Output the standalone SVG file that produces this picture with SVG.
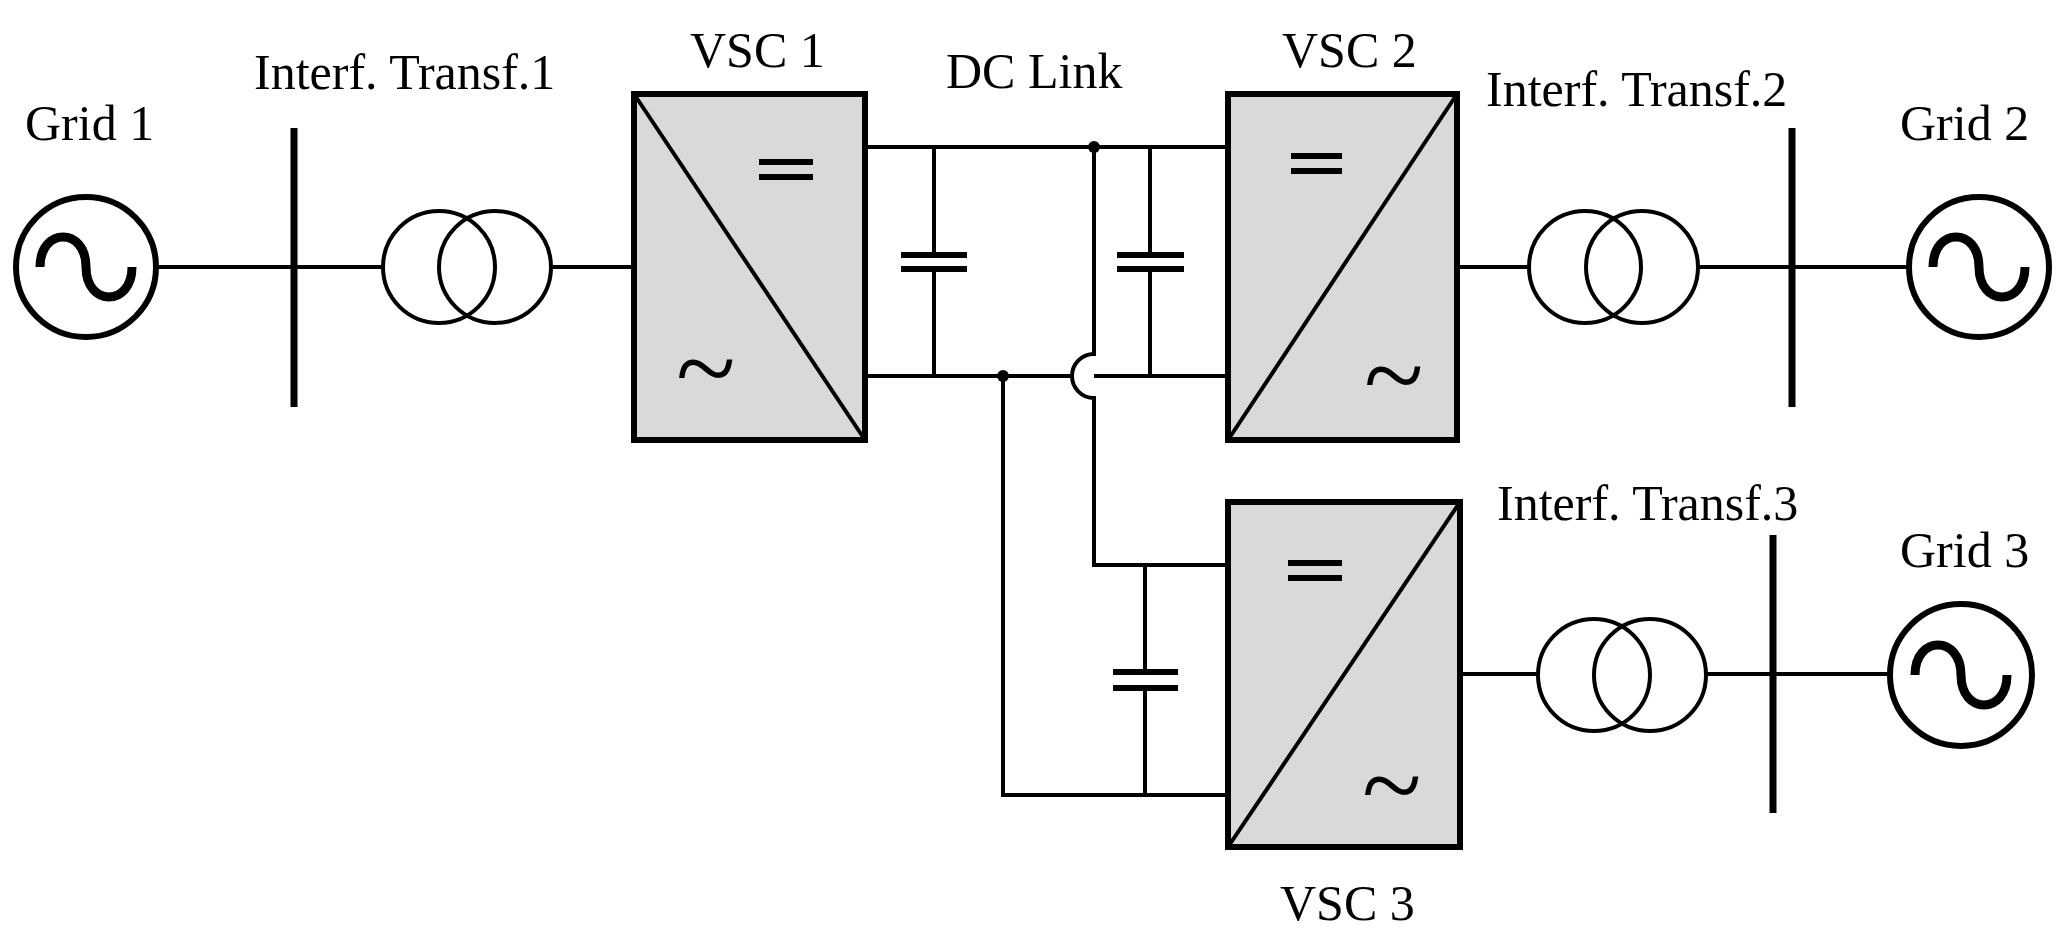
<svg xmlns="http://www.w3.org/2000/svg" width="2070" height="940" viewBox="0 0 2070 940">
<style>
.w{fill:none;stroke:#000;stroke-width:4}
.bus{stroke:#000;stroke-width:7}
.g{fill:none;stroke:#000;stroke-width:6}
.sine{fill:none;stroke:#000;stroke-width:9}
.tr{fill:none;stroke:#000;stroke-width:4}
.box{fill:#d9d9d9;stroke:#000;stroke-width:6}
.diag{stroke:#000;stroke-width:4}
.plate{stroke:#000;stroke-width:6}
.t{font-family:"Liberation Serif","Times New Roman",serif;font-size:50px;fill:#000}
.tl{font-family:"Liberation Serif","Times New Roman",serif;font-size:110px;fill:#000}
</style>
<rect width="2070" height="940" fill="#fff"/>
<g id="connectors">
<path class="w" d="M157,267H383M551,267H634M865,147H1228M865,376H1072M1094,376H1228M1003,376V795H1228M1094,147V354A22,22 0 0 0 1094,398V565H1228M934,147V255M934,269V376M1150,147V255M1150,269V376M1145,565V672M1145,688V795M1457,267H1529M1698,267H1910M1460,674H1538M1706,674H1889"/>
<circle cx="1003" cy="376" r="6"/>
<circle cx="1094" cy="147" r="6"/>
<path class="plate" d="M901,255H967M901,269H967M1117,255H1184M1117,269H1184M1113,672H1178M1113,688H1178"/>
</g>
<g id="grid1"><circle class="g" cx="86" cy="267" r="70"/><path class="sine" d="M40,267C40,227 86,227 86,267C86,307 132,307 132,267"/><text class="t" x="25" y="140">Grid 1</text></g>
<g id="bus1"><line class="bus" x1="294" y1="128" x2="294" y2="407"/></g>
<g id="transf1"><circle class="tr" cx="439" cy="267" r="56"/><circle class="tr" cx="495" cy="267" r="56"/><text class="t" x="254" y="89">Interf. Transf.1</text></g>
<g id="vsc1"><rect class="box" x="634" y="94" width="231" height="346"/><line class="diag" x1="634" y1="94" x2="865" y2="440"/><path class="plate" d="M759,162H813M759,177H813"/><text class="tl" x="676" y="405">~</text><text class="t" x="690" y="67">VSC 1</text></g>
<g id="dclink"><text class="t" x="946" y="88">DC Link</text></g>
<g id="vsc2"><rect class="box" x="1228" y="94" width="229" height="346"/><line class="diag" x1="1228" y1="440" x2="1457" y2="94"/><path class="plate" d="M1291,156H1342M1291,171H1342"/><text class="tl" x="1364" y="412">~</text><text class="t" x="1282" y="67">VSC 2</text></g>
<g id="transf2"><circle class="tr" cx="1585" cy="267" r="56"/><circle class="tr" cx="1642" cy="267" r="56"/><text class="t" x="1486" y="106">Interf. Transf.2</text></g>
<g id="bus2"><line class="bus" x1="1792" y1="128" x2="1792" y2="407"/></g>
<g id="grid2"><circle class="g" cx="1979" cy="267" r="70"/><path class="sine" d="M1933,267C1933,227 1979,227 1979,267C1979,307 2025,307 2025,267"/><text class="t" x="1900" y="140">Grid 2</text></g>
<g id="vsc3"><rect class="box" x="1228" y="502" width="232" height="345"/><line class="diag" x1="1228" y1="847" x2="1460" y2="502"/><path class="plate" d="M1288,563H1342M1288,578H1342"/><text class="tl" x="1362" y="822">~</text><text class="t" x="1280" y="920">VSC 3</text></g>
<g id="transf3"><circle class="tr" cx="1594" cy="675" r="56"/><circle class="tr" cx="1650" cy="675" r="56"/><text class="t" x="1497" y="520">Interf. Transf.3</text></g>
<g id="bus3"><line class="bus" x1="1773" y1="535" x2="1773" y2="813"/></g>
<g id="grid3"><circle class="g" cx="1961" cy="675" r="71"/><path class="sine" d="M1915,675C1915,635 1961,635 1961,675C1961,715 2007,715 2007,675"/><text class="t" x="1900" y="567">Grid 3</text></g>
</svg>
